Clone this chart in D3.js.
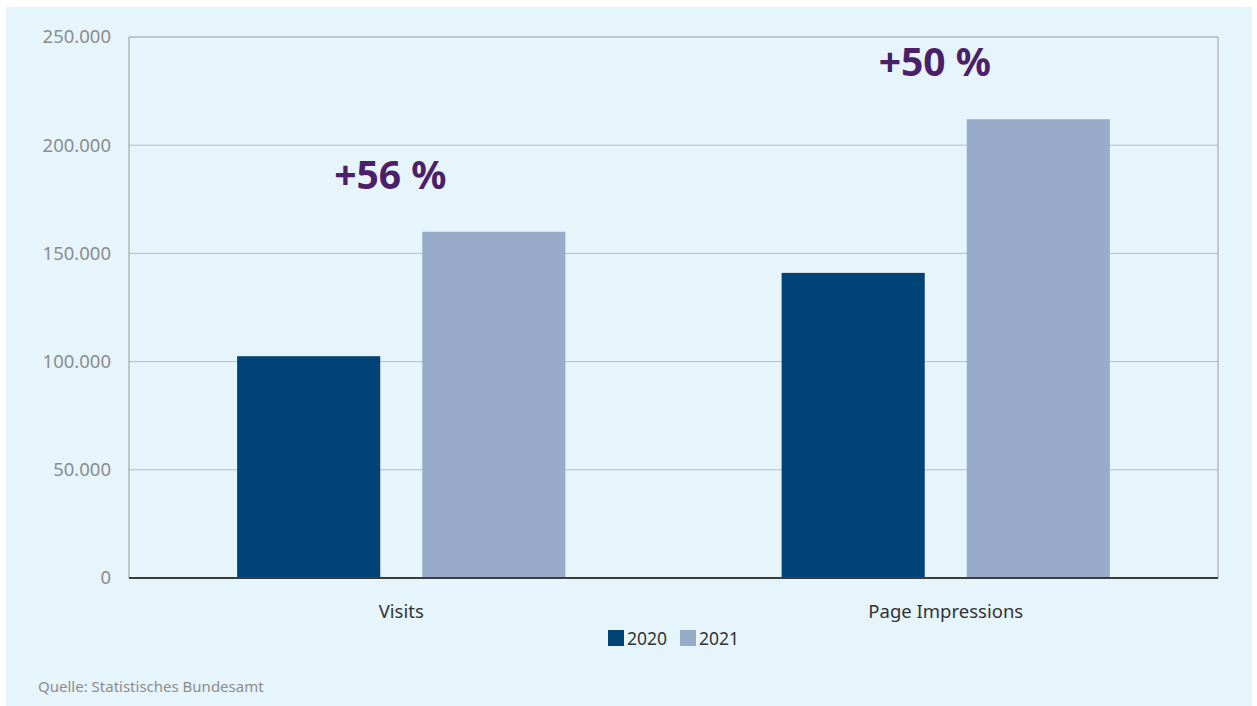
<!DOCTYPE html>
<html><head><meta charset="utf-8">
<script src="https://cdn.jsdelivr.net/npm/d3@7"></script>
<style>
html,body{margin:0;padding:0;background:#fff;}
svg{display:block;}
text{font-family:"Noto Sans","Open Sans",sans-serif;}
</style></head>
<body>
<svg id="chart" width="1257" height="706"></svg>
<script>
const categories = ["Visits", "Page Impressions"];
const seriesNames = ["2020", "2021"];
const values2020 = [102500, 141000];
const values2021 = [160000, 212000];
const changeLabels = ["+56 %", "+50 %"];
const yTicks = [0, 50000, 100000, 150000, 200000, 250000];
const colors = ["#004376", "#98abc9"];

const svg = d3.select("#chart");
const W = 1257, H = 706;
svg.append("rect").attr("x", 6).attr("y", 7).attr("width", W - 11).attr("height", H - 7).attr("fill", "#e6f4fc");

const m = {left: 129, right: 1218, top: 37, bottom: 578};
const x0 = d3.scaleBand().domain(categories).range([m.left, m.right]).paddingInner(0).paddingOuter(0);
const x1 = d3.scaleBand().domain(seriesNames).range([0, x0.bandwidth()]).paddingInner(0.227).paddingOuter(0.584);
const y = d3.scaleLinear().domain([0, 250000]).range([m.bottom, m.top]);

const fmt = d => d === 0 ? "0" : d3.format(",")(d).replace(/,/g, ".");

// gridlines
svg.append("g").selectAll("line").data(yTicks.filter(t => t > 0 && t < 250000)).join("line")
  .attr("x1", m.left).attr("x2", m.right).attr("y1", d => y(d)).attr("y2", d => y(d))
  .attr("stroke", "#b9bdbf").attr("stroke-width", 1);

// frame
svg.append("path")
  .attr("d", `M${m.left},${m.bottom}V${m.top}H${m.right}V${m.bottom}`)
  .attr("fill", "none").attr("stroke", "#9a9a9a").attr("stroke-width", 1);

// y axis labels
const yAxis = d3.axisLeft(y).tickValues(yTicks).tickSize(0).tickPadding(18).tickFormat(fmt);
const ya = svg.append("g").attr("transform", `translate(${m.left},0)`).call(yAxis);
ya.select(".domain").remove();
ya.selectAll("text").attr("fill", "#8c8c8c").style("font-size", "18.5px").style("font-family", '"Noto Sans","Open Sans",sans-serif');

// bars
const data = categories.map((c, i) => ({cat: c, vals: [values2020[i], values2021[i]]}));
const groups = svg.append("g").selectAll("g").data(data).join("g")
  .attr("transform", d => `translate(${x0(d.cat)},0)`);
groups.selectAll("rect").data(d => d.vals.map((v, j) => ({s: seriesNames[j], v, j}))).join("rect")
  .attr("x", d => x1(d.s)).attr("width", x1.bandwidth())
  .attr("y", d => y(d.v)).attr("height", d => y(0) - y(d.v))
  .attr("fill", d => colors[d.j]);

// baseline
svg.append("line").attr("x1", m.left).attr("x2", m.right).attr("y1", y(0)).attr("y2", y(0))
  .attr("stroke", "#3c3c3c").attr("stroke-width", 2);

// x axis labels
const xAxis = d3.axisBottom(x0).tickSize(0).tickPadding(27);
const xa = svg.append("g").attr("transform", `translate(0,${m.bottom})`).call(xAxis);
xa.select(".domain").remove();
xa.selectAll("text").attr("fill", "#333").style("font-size", "18.5px").style("font-family", '"Noto Sans","Open Sans",sans-serif');

// change annotations
svg.append("g").selectAll("text").data(data).join("text")
  .attr("x", d => x0(d.cat) + x0.bandwidth() / 2 - 11)
  .attr("y", d => y(d.vals[1]) - 43)
  .attr("text-anchor", "middle")
  .attr("fill", "#4c2068").style("font-size", "39px").style("font-weight", "700")
  .text((d, i) => changeLabels[i]);

// legend
const lg = svg.append("g").attr("transform", "translate(608,630)");
const items = lg.selectAll("g").data(seriesNames).join("g").attr("transform", (d, i) => `translate(${i * 72},0)`);
items.append("rect").attr("width", 16).attr("height", 16).attr("fill", (d, i) => colors[i]);
items.append("text").attr("x", 19).attr("y", 15).attr("fill", "#333").style("font-size", "17.5px").text(d => d);

// source
svg.append("text").attr("x", 38).attr("y", 692).attr("fill", "#8c8c8c").style("font-size", "15px")
  .text("Quelle: Statistisches Bundesamt");
</script>
</body></html>
